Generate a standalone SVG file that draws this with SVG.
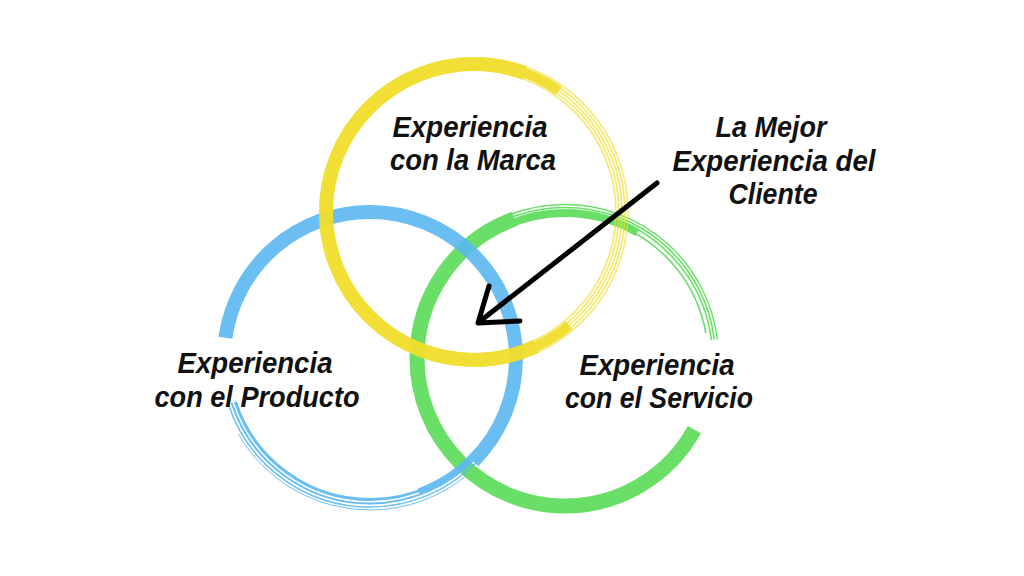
<svg xmlns="http://www.w3.org/2000/svg" width="1024" height="576" viewBox="0 0 1024 576">
<style>
.lbl{font-family:"Liberation Sans",Arial,sans-serif;font-weight:700;font-style:italic;font-size:29.5px;fill:#111;}
.ring{fill:none;}
.y{stroke:#F2DE2C;}
.b{stroke:#5BB8F0;}
.g{stroke:#5EDD5C;}
</style>
<rect width="1024" height="576" fill="#fff"/>
<!-- Green circle -->
<g id="servicio">
 <g opacity="0.92">
  <circle class="ring g" cx="565" cy="358" r="148" pathLength="360" stroke-width="15" stroke-dasharray="221 139" stroke-dashoffset="-29"/>
  <circle class="ring g" cx="565" cy="358" r="145" pathLength="360" stroke-width="8" stroke-dasharray="60 300" stroke-dashoffset="-240"/>
  <circle class="ring g" cx="565" cy="358" r="150.5" pathLength="360" stroke-width="1.6" stroke-dasharray="123 237" stroke-dashoffset="-230"/>
  <circle class="ring g" cx="565" cy="358" r="153.5" pathLength="360" stroke-width="1.4" stroke-dasharray="118 242" stroke-dashoffset="-235"/>
  <circle class="ring g" cx="565" cy="358" r="147.5" pathLength="360" stroke-width="1.6" stroke-dasharray="73 287" stroke-dashoffset="-280"/>
  <circle class="ring g" cx="565" cy="358" r="143" pathLength="360" stroke-width="1.6" stroke-dasharray="60 300" stroke-dashoffset="-290"/>
 </g>
 <text class="lbl" text-anchor="middle"><tspan x="657" y="375" textLength="155" lengthAdjust="spacingAndGlyphs">Experiencia</tspan><tspan x="659" y="408" textLength="188" lengthAdjust="spacingAndGlyphs">con el Servicio</tspan></text>
</g>
<!-- Blue circle -->
<g id="producto">
 <g opacity="0.9">
  <circle class="ring b" cx="370" cy="358" r="146" pathLength="360" stroke-width="14" stroke-dasharray="217 143" stroke-dashoffset="-188"/>
  <circle class="ring b" cx="370" cy="358" r="142" pathLength="360" stroke-width="6" stroke-dasharray="30 330" stroke-dashoffset="-40"/>
  <circle class="ring b" cx="370" cy="358" r="141.5" pathLength="360" stroke-width="3" stroke-dasharray="122 238" stroke-dashoffset="-40"/>
  <circle class="ring b" cx="370" cy="358" r="145.5" pathLength="360" stroke-width="2" stroke-dasharray="120 240" stroke-dashoffset="-42"/>
  <circle class="ring b" cx="370" cy="358" r="149" pathLength="360" stroke-width="1.5" stroke-dasharray="118 242" stroke-dashoffset="-44"/>
  <circle class="ring b" cx="370" cy="358" r="152" pathLength="360" stroke-width="1" stroke-dasharray="100 260" stroke-dashoffset="-50"/>
 </g>
 <text class="lbl" text-anchor="middle"><tspan x="255" y="373" textLength="155" lengthAdjust="spacingAndGlyphs">Experiencia</tspan><tspan x="257" y="407" textLength="205" lengthAdjust="spacingAndGlyphs">con el Producto</tspan></text>
</g>
<!-- Yellow circle -->
<g id="marca">
 <g opacity="0.95">
  <circle class="ring y" cx="474" cy="212" r="148" pathLength="360" stroke-width="14" stroke-dasharray="225 135" stroke-dashoffset="-65"/>
  <circle class="ring y" cx="474" cy="212" r="148" pathLength="360" stroke-width="10" stroke-dasharray="20 340" stroke-dashoffset="-50"/>
  <circle class="ring y" cx="474" cy="212" r="148" pathLength="360" stroke-width="10" stroke-dasharray="20 340" stroke-dashoffset="-285"/>
  <g opacity="0.7">
   <circle class="ring y" cx="474" cy="212" r="142" stroke-width="1.7"/>
   <circle class="ring y" cx="474" cy="212" r="145" stroke-width="1.7"/>
   <circle class="ring y" cx="474" cy="212" r="148" stroke-width="1.7"/>
   <circle class="ring y" cx="474" cy="212" r="151" stroke-width="1.7"/>
   <circle class="ring y" cx="474" cy="212" r="154" stroke-width="1.5"/>
  </g>
 </g>
 <text class="lbl" text-anchor="middle"><tspan x="470" y="137" textLength="155" lengthAdjust="spacingAndGlyphs">Experiencia</tspan><tspan x="473" y="170" textLength="166" lengthAdjust="spacingAndGlyphs">con la Marca</tspan></text>
</g>
<!-- Best experience label -->
<g id="mejor">
 <text class="lbl" text-anchor="middle"><tspan x="771" y="137" textLength="111" lengthAdjust="spacingAndGlyphs">La Mejor</tspan><tspan x="774" y="170.5" textLength="203" lengthAdjust="spacingAndGlyphs">Experiencia del</tspan><tspan x="773" y="204" textLength="89" lengthAdjust="spacingAndGlyphs">Cliente</tspan></text>
</g>
<!-- Connectors -->
<g id="connectors" fill="none" stroke="#000" stroke-width="5" stroke-linecap="round" stroke-linejoin="round">
 <path d="M657,183 L479,322"/>
 <path d="M489,286 L478,323 L520,321"/>
</g>
</svg>
